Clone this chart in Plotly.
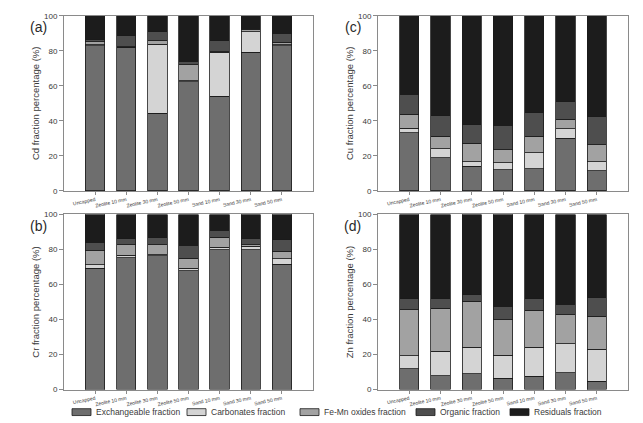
import plotly.graph_objects as go

categories = ["Uncapped", "Zeolite 10 mm", "Zeolite 30 mm", "Zeolite 50 mm",
              "Sand 10 mm", "Sand 30 mm", "Sand 50 mm"]
fractions = ["Exchangeable fraction", "Carbonates fraction", "Fe-Mn oxides fraction",
             "Organic fraction", "Residuals fraction"]
colors = ["#6e6e6e", "#d4d4d4", "#a2a2a2", "#4e4e4e", "#1c1c1c"]

# values per panel: [exchangeable, carbonates, fe-mn, organic, residual]
cd_exch = [83.0, 81.7, 44.3, 62.4, 54.0, 79.3, 82.9]
cd_carb = [0.5, 0.2, 39.3, 0.4, 25.1, 11.6, 0.5]
cd_femn = [1.6, 0.3, 2.1, 9.1, 0.3, 1.5, 1.5]
cd_org = [1.3, 6.4, 5.2, 2.2, 6.3, 0.5, 5.2]
cd_res = [13.6, 11.4, 9.1, 25.9, 14.3, 7.1, 9.9]

cu_exch = [33.3, 19.0, 14.0, 12.1, 12.8, 30.0, 11.4]
cu_carb = [2.5, 5.0, 2.8, 4.1, 9.0, 5.4, 5.4]
cu_femn = [8.0, 7.1, 10.4, 7.4, 9.5, 5.6, 9.5]
cu_org = [11.3, 11.7, 10.6, 14.0, 13.4, 10.0, 16.0]
cu_res = [44.9, 57.2, 62.2, 62.4, 55.3, 49.0, 57.7]

cr_exch = [69.4, 75.2, 76.3, 67.9, 79.9, 79.7, 71.5]
cr_carb = [1.9, 1.5, 0.8, 1.3, 1.3, 2.0, 3.3]
cr_femn = [8.0, 5.9, 5.5, 5.8, 5.9, 0.9, 4.3]
cr_org = [4.7, 3.6, 4.0, 7.5, 3.8, 3.4, 6.5]
cr_res = [16.0, 13.8, 13.4, 17.5, 9.1, 14.0, 14.4]

zn_exch = [12.0, 7.9, 9.0, 6.5, 7.7, 9.7, 4.7]
zn_carb = [7.4, 14.0, 15.1, 13.1, 16.4, 16.5, 18.3]
zn_femn = [26.2, 24.5, 26.4, 20.4, 21.1, 16.4, 18.9]
zn_org = [6.2, 5.4, 3.7, 7.7, 6.6, 6.0, 10.6]
zn_res = [48.2, 48.2, 45.8, 52.3, 48.2, 51.4, 47.5]

panels = [
    ("(a)", "Cd fraction percentage (%)", [cd_exch, cd_carb, cd_femn, cd_org, cd_res], "x", "y"),
    ("(c)", "Cu fraction percentage (%)", [cu_exch, cu_carb, cu_femn, cu_org, cu_res], "x2", "y2"),
    ("(b)", "Cr fraction percentage (%)", [cr_exch, cr_carb, cr_femn, cr_org, cr_res], "x3", "y3"),
    ("(d)", "Zn fraction percentage (%)", [zn_exch, zn_carb, zn_femn, zn_org, zn_res], "x4", "y4"),
]

W, H = 643, 423
xdoms = [(64 / W, 313 / W), (378 / W, 628 / W)]
ydoms = [(1 - 191 / H, 1 - 12 / H), (1 - 394 / H, 1 - 215 / H)]

fig = go.Figure()
font_family = "Arial, Liberation Sans, sans-serif"
axis_color = "#8a8a8a"
text_color = "#3a3a3a"

for i, (label, ytitle, series, xa, ya) in enumerate(panels):
    for j, vals in enumerate(series):
        fig.add_trace(go.Bar(
            x=list(range(len(categories))), y=vals, xaxis=xa, yaxis=ya,
            marker=dict(color=colors[j], line=dict(color="#1a1a1a", width=0.8)),
            width=0.62, showlegend=False, name=fractions[j],
        ))
    col = i % 2
    row = i // 2
    xkey = "xaxis" if i == 0 else f"xaxis{i + 1}"
    ykey = "yaxis" if i == 0 else f"yaxis{i + 1}"
    fig.layout[xkey] = dict(
        domain=xdoms[col], anchor=ya, range=[-1, 7],
        tickmode="array", tickvals=list(range(len(categories))), ticktext=categories,
        tickangle=-12, tickfont=dict(size=5, color=text_color, family=font_family),
        ticks="outside", ticklen=3, tickcolor=axis_color,
        showline=True, linecolor=axis_color, linewidth=1, mirror=True,
        showgrid=False, zeroline=False, fixedrange=True,
    )
    fig.layout[ykey] = dict(
        domain=ydoms[row], anchor=xa, range=[0, 100],
        tickvals=[0, 20, 40, 60, 80, 100],
        tickfont=dict(size=8, color=text_color, family=font_family),
        ticks="outside", ticklen=4, tickcolor=axis_color,
        showline=True, linecolor=axis_color, linewidth=1, mirror=True,
        showgrid=False, zeroline=False,
        title=dict(text=ytitle, font=dict(size=9.5, color=text_color, family=font_family), standoff=2),
    )
    fig.add_annotation(
        text=label, xref="paper", yref="paper",
        x=xdoms[col][0] - 15 / W, y=ydoms[row][1] - 12 / H,
        xanchor="right", yanchor="middle", showarrow=False,
        font=dict(size=14, color="#2a2a2a", family=font_family),
    )

# legend row drawn as swatches + labels
legend_x = [72, 187, 300, 416, 510]
legend_y = 417
for k, name in enumerate(fractions):
    x0 = legend_x[k]
    fig.add_shape(
        type="rect", xref="paper", yref="paper",
        x0=x0 / W, x1=(x0 + 19) / W, y0=1 - (legend_y + 3.5) / H, y1=1 - (legend_y - 3.5) / H,
        fillcolor=colors[k], line=dict(color="#1a1a1a", width=0.8),
    )
    fig.add_annotation(
        text=name, xref="paper", yref="paper",
        x=(x0 + 22) / W, y=1 - legend_y / H, xanchor="left", yanchor="middle",
        showarrow=False, font=dict(size=8.5, color=text_color, family=font_family),
    )

fig.update_layout(
    width=W, height=H, margin=dict(l=0, r=0, t=0, b=0),
    paper_bgcolor="white", plot_bgcolor="white",
    barmode="stack", bargap=0.38, showlegend=False,
    font=dict(family=font_family),
)

fig.write_html("out.html")
